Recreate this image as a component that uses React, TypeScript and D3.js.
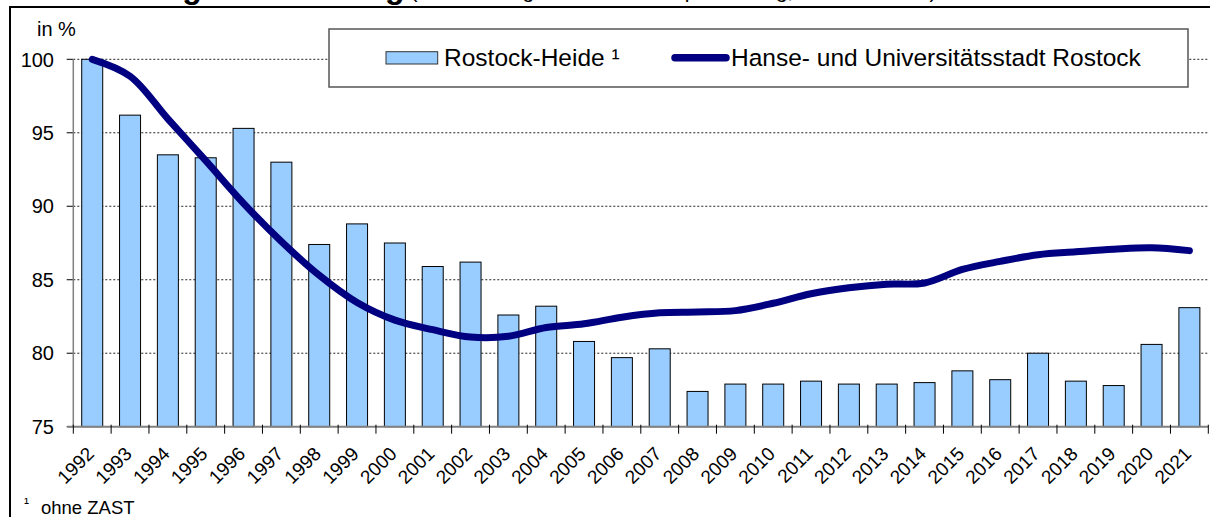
import * as d3 from "d3";
import React from "react";

// years on the x axis
const years: string[] = [
  "1992", "1993", "1994", "1995", "1996", "1997", "1998", "1999", "2000", "2001",
  "2002", "2003", "2004", "2005", "2006", "2007", "2008", "2009", "2010", "2011",
  "2012", "2013", "2014", "2015", "2016", "2017", "2018", "2019", "2020", "2021",
];

// Rostock-Heide (bars), 1992 = 100
const heideValues: number[] = [
  100, 96.2, 93.5, 93.3, 95.3, 93.0, 87.4, 88.8, 87.5, 85.9,
  86.2, 82.6, 83.2, 80.8, 79.7, 80.3, 77.4, 77.9, 77.9, 78.1,
  77.9, 77.9, 78.0, 78.8, 78.2, 80.0, 78.1, 77.8, 80.6, 83.1,
];

// Hanse- und Universitätsstadt Rostock (line), 1992 = 100
const rostockValues: number[] = [
  100, 98.85, 95.95, 93.1, 90.2, 87.6, 85.3, 83.45, 82.25, 81.6,
  81.1, 81.15, 81.75, 82.0, 82.45, 82.75, 82.8, 82.9, 83.4, 84.05,
  84.45, 84.7, 84.78, 85.7, 86.25, 86.7, 86.9, 87.08, 87.18, 86.98,
];

const yTicks: number[] = [75, 80, 85, 90, 95, 100];

const seriesNames = ["Rostock-Heide ¹", "Hanse- und Universitätsstadt Rostock"];

const BAR_FILL = "#99CCFF";
const LINE_COLOR = "#000080";
const FONT = "Arial, 'Liberation Sans', sans-serif";

export default function App(): React.ReactElement {
  const width = 1210;
  const height = 517;
  const plot = { left: 73.3, right: 1208.3, top: 59.3, bottom: 426.7 };

  const x = d3.scaleBand<string>().domain(years).range([plot.left, plot.right]).padding(0);
  const y = d3.scaleLinear().domain([75, 100]).range([plot.bottom, plot.top]);

  const bw = x.bandwidth();
  const barW = bw * 0.555;
  const cx = (yr: string) => (x(yr) ?? 0) + bw / 2;

  const line = d3
    .line<number>()
    .x((_, i) => cx(years[i]))
    .y((d) => y(d))
    .curve(d3.curveCatmullRom.alpha(0.5));

  return (
    <svg
      width={width}
      height={height}
      style={{ position: "absolute", left: 0, top: 0, background: "#fff" }}
      fontFamily={FONT}
    >
      {/* title, mostly cut off at the top */}
      <text x={8} y={-2} fontSize={32} fontWeight="bold" fill="#000">
        Bevölkerungsentwicklung
        <tspan fontWeight="normal" fontSize={21} dx={6}>
          (Bevölkerung am Ort der Hauptwohnung, 1992 = 100 %)
        </tspan>
      </text>

      {/* frame */}
      <line x1={10} x2={width} y1={7} y2={7} stroke="#000" strokeWidth={2} />
      <line x1={10} x2={10} y1={6} y2={height} stroke="#000" strokeWidth={2} />

      <text x={37} y={36} fontSize={20} fill="#000">in %</text>

      {/* gridlines */}
      {yTicks.filter((t) => t > 75).map((t) => (
        <line
          key={`g-${t}`}
          x1={plot.left}
          x2={plot.right}
          y1={y(t)}
          y2={y(t)}
          stroke="#222"
          strokeWidth={1}
          strokeDasharray="2,2"
        />
      ))}

      {/* y axis */}
      {yTicks.map((t) => (
        <g key={`yt-${t}`} transform={`translate(0,${y(t)})`}>
          <line x1={66.7} x2={plot.left} stroke="#000" strokeWidth={1} />
          <text x={54} dy="0.36em" textAnchor="end" fontSize={20} fill="#000">
            {t}
          </text>
        </g>
      ))}

      {/* bars */}
      {heideValues.map((v, i) => (
        <rect
          key={`b-${years[i]}`}
          x={cx(years[i]) - barW / 2}
          y={y(v)}
          width={barW}
          height={y(75) - y(v)}
          fill={BAR_FILL}
          stroke="#000"
          strokeWidth={1}
        />
      ))}

      {/* axes lines */}
      <line x1={plot.left} x2={plot.left} y1={plot.top} y2={plot.bottom} stroke="#808080" strokeWidth={1.5} />
      <line x1={plot.left - 6} x2={plot.right} y1={plot.bottom} y2={plot.bottom} stroke="#808080" strokeWidth={2} />

      {/* x ticks at category boundaries */}
      {[...years.map((yr) => x(yr) ?? 0), plot.right].map((p, i) => (
        <line key={`xt-${i}`} x1={p} x2={p} y1={plot.bottom - 2} y2={plot.bottom + 7} stroke="#000" strokeWidth={1} />
      ))}

      {/* year labels */}
      {years.map((yr) => (
        <text
          key={`yl-${yr}`}
          transform={`translate(${cx(yr) + 3},${455}) rotate(-45)`}
          textAnchor="end"
          fontSize={19}
          fill="#000"
        >
          {yr}
        </text>
      ))}

      {/* city line */}
      <path
        d={line(rostockValues) ?? ""}
        fill="none"
        stroke={LINE_COLOR}
        strokeWidth={7}
        strokeLinejoin="round"
        strokeLinecap="round"
      />

      {/* legend */}
      <g>
        <rect x={329} y={29} width={859} height={58} fill="#fff" stroke="#555" strokeWidth={1.5} />
        <rect x={386} y={51.7} width={51.7} height={12.3} fill={BAR_FILL} stroke="#333" strokeWidth={1} />
        <text x={444} y={66} fontSize={24.5} fill="#000">{seriesNames[0]}</text>
        <line x1={675} x2={726} y1={57.7} y2={57.7} stroke={LINE_COLOR} strokeWidth={7.5} strokeLinecap="round" />
        <text x={731} y={66} fontSize={24.5} fill="#000">{seriesNames[1]}</text>
      </g>

      {/* footnote */}
      <text x={24} y={508} fontSize={15} fill="#000">¹</text>
      <text x={41} y={514} fontSize={18.5} fill="#000">ohne ZAST</text>
    </svg>
  );
}
